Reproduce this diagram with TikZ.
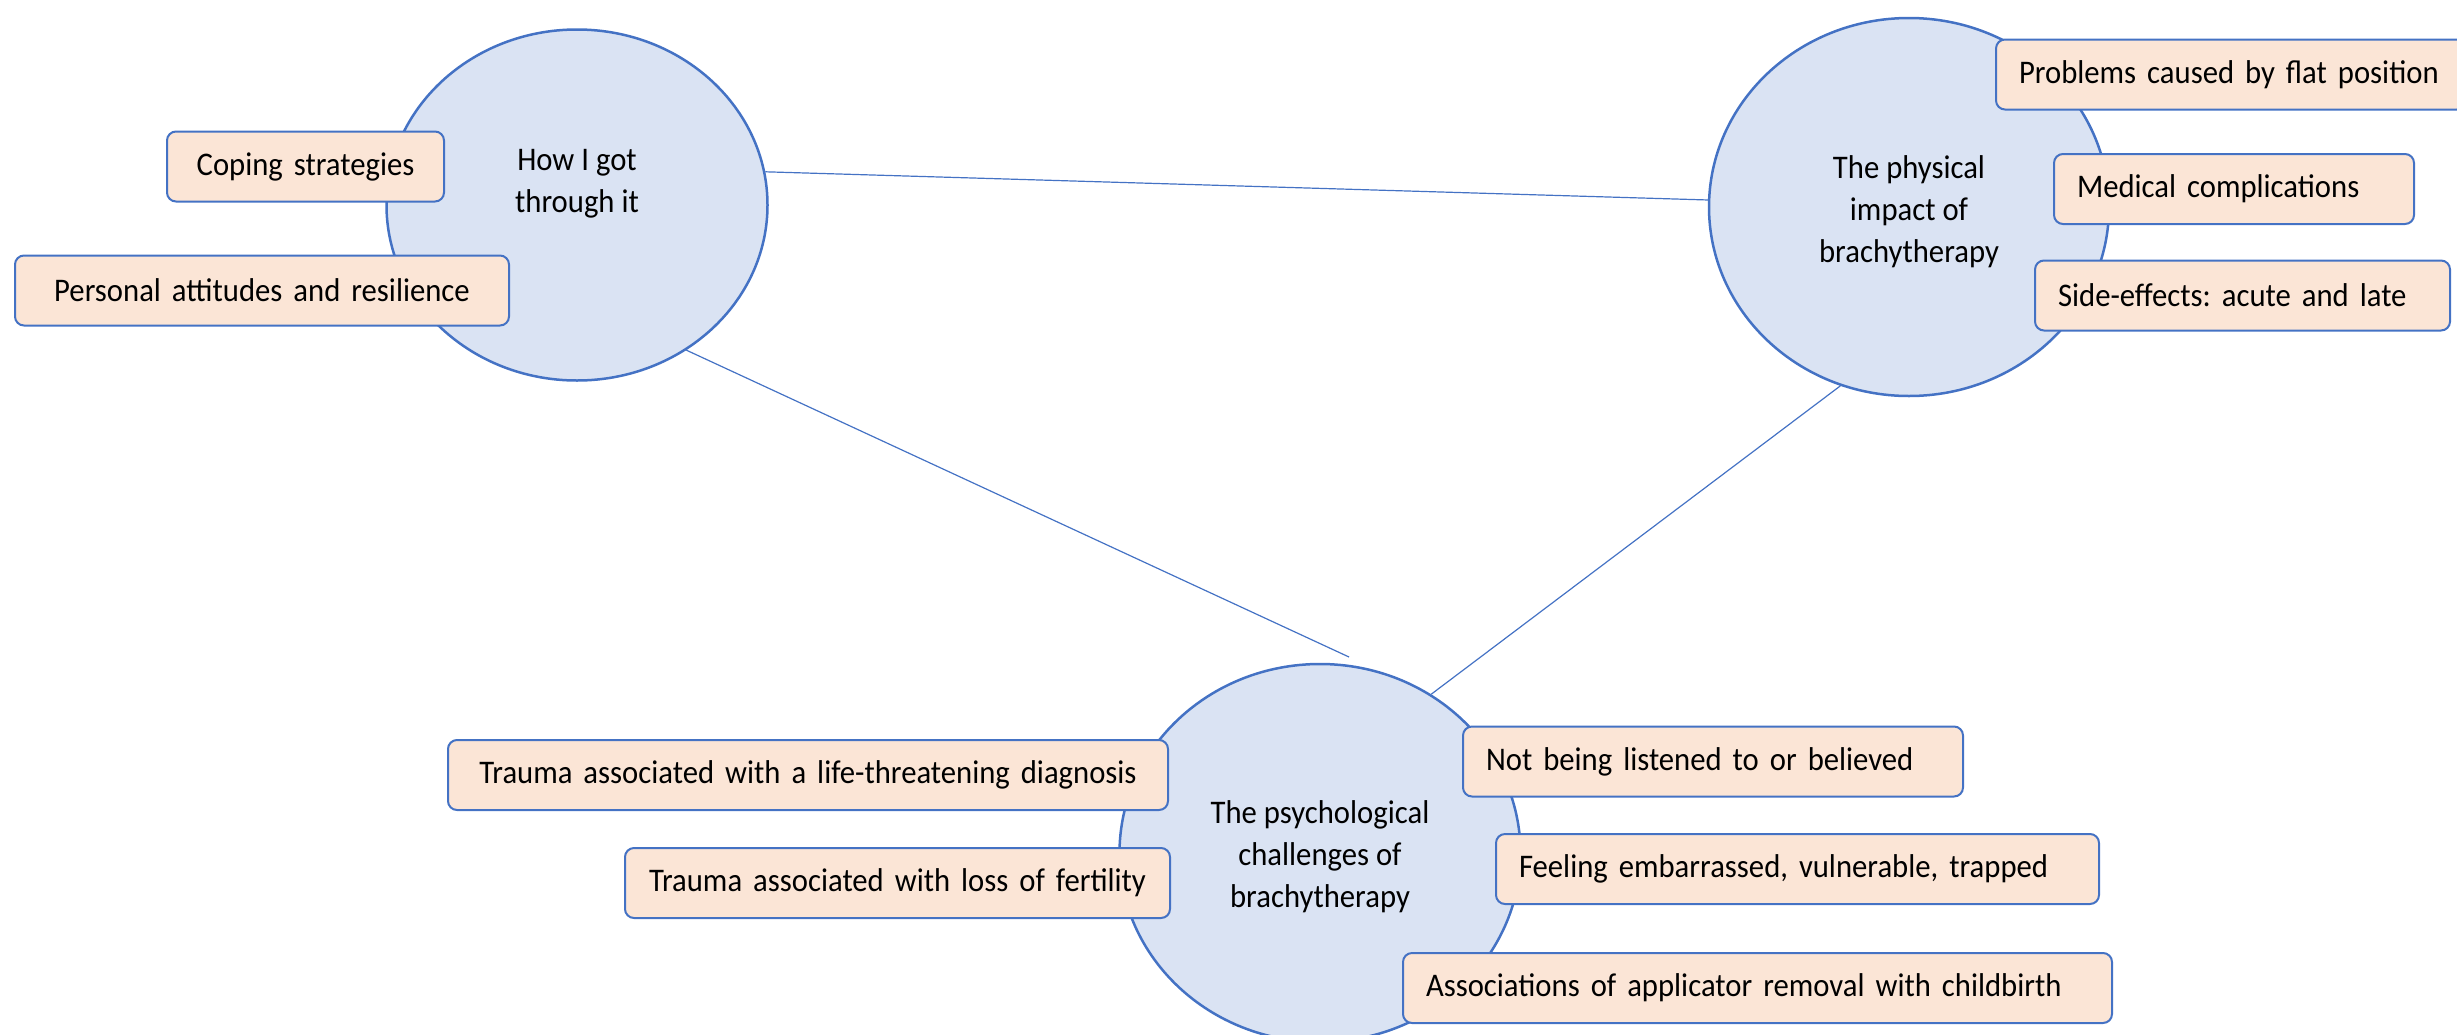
\documentclass[tikz,border=0pt]{standalone}
\usepackage{fontspec}
\setmainfont{Carlito}[FakeStretch=0.93]
\usetikzlibrary{shapes.geometric,backgrounds}
\definecolor{eblue}{HTML}{4472C4}
\definecolor{efill}{HTML}{DAE3F3}
\definecolor{bfill}{HTML}{FBE5D6}
\begin{document}
\frenchspacing
\begin{tikzpicture}[x=1pt,y=-1pt,
  theme/.style={ellipse, draw=eblue, fill=efill, line width=2.5pt, inner sep=0pt},
  sub/.style={draw=eblue, fill=bfill, line width=2pt, rounded corners=9pt, minimum height=70pt, inner ysep=0pt, font=\fontsize{33}{38}\selectfont, anchor=west},
  leftbox/.style={sub, inner xsep=23pt, align=left},
  centbox/.style={sub, inner xsep=0pt, align=center},
  lbl/.style={font=\fontsize{33}{42}\selectfont, align=center, inner sep=0pt},
  link/.style={draw=eblue, line width=1.2pt}]
\useasboundingbox (0,0) rectangle (2457,1034);
% themes
\node[theme, minimum width=381pt, minimum height=351pt] (A) at (577,205) {};
\node[theme, minimum width=400pt, minimum height=378pt] (B) at (1909,207) {};
\node[theme, minimum width=401pt, minimum height=378pt] (C) at (1320,853) {};
\node[lbl] (At) at (577,184) {How I got\\through it};
\node[lbl] (Bt) at (1909,212) {The physical\\impact of\\brachytherapy};
\node[lbl] (Ct) at (1320,857) {The psychological\\challenges of\\brachytherapy};
% subthemes
\node[centbox, text width=277pt] (cope) at (166,166.5) {Coping strategies};
\node[centbox, text width=494pt] (pers) at (14,290.5) {Personal attitudes and resilience};
\node[leftbox, text width=424pt] (prob) at (1995,74.5) {Problems caused by flat position};
\node[leftbox, text width=314pt] (med) at (2053,189) {Medical complications};
\node[leftbox, text width=369pt] (side) at (2034,295.5) {Side-effects: acute and late};
\node[centbox, text width=720pt] (trl) at (447,775) {Trauma associated with a life-threatening diagnosis};
\node[centbox, text width=545pt] (trf) at (624,883) {Trauma associated with loss of fertility};
\node[leftbox, text width=454pt] (notb) at (1462,761.5) {Not being listened to or believed};
\node[leftbox, text width=557pt] (feel) at (1495,869) {Feeling embarrassed, vulnerable, trapped};
\node[leftbox, text width=663pt] (assoc) at (1402,988) {Associations of applicator removal with childbirth};
\coordinate (cend) at (1349,657);
\begin{scope}[on background layer]
\draw[link] (A.10) -- (B.178);
\draw[link] (A.-53) -- (cend);
\draw[link] (B.-111.6) -- (C.55);
\end{scope}
\end{tikzpicture}
\end{document}
